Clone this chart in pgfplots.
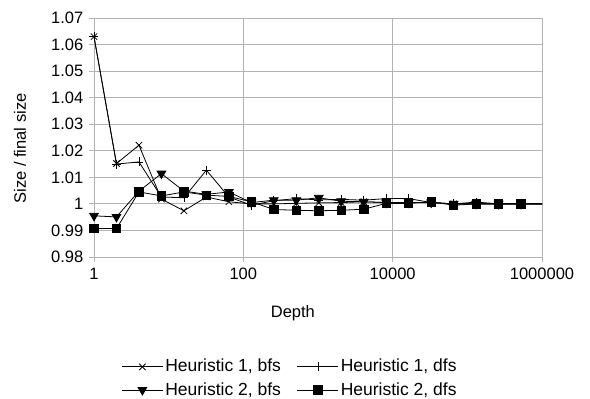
\documentclass[border=0pt]{standalone}
\usepackage{fontspec}
\setmainfont{Liberation Sans}
\usepackage{pgfplots}
\pgfplotsset{compat=1.18}
\pgfplotstableread{
x        hbfs    hdfs    tbfs    tdfs
1        1.0630  1.0630  0.9955  0.9907
2        1.0152  1.0150  0.9951  0.9907
4        1.0221  1.0158  1.0048  1.0045
8        1.0018  1.0026  1.0114  1.0030
16       0.9974  1.0023  1.0048  1.0045
32       1.0026  1.0127  1.0036  1.0033
64       1.0008  1.0026  1.0045  1.0028
128      1.0000  0.9995  1.0005  1.0008
256      1.0000  1.0012  1.0014  0.9979
512      1.0002  1.0020  1.0014  0.9976
1024     1.0004  1.0015  1.0023  0.9974
2048     1.0005  1.0017  1.0010  0.9976
4096     1.0008  1.0014  1.0008  0.9980
8192     1.0005  1.0020  1.0005  1.0002
16384    1.0005  1.0020  1.0005  1.0002
32768    1.0005  1.0005  1.0005  1.0008
65536    1.0000  1.0000  1.0000  0.9995
131072   1.0000  1.0007  1.0000  1.0000
262144   1.0000  1.0000  1.0000  1.0000
524288   1.0000  1.0000  1.0000  1.0000
1048576  1.0000  1.0000  1.0000  1.0000
}\datatable
\begin{document}
\fontsize{16.5bp}{19bp}\selectfont
\begin{tikzpicture}
\begin{axis}[
  at={(0,0)}, anchor=south west,
  scale only axis, width=448bp, height=239bp,
  xmode=log, xmin=1, xmax=1000000,
  ymin=0.98, ymax=1.07,
  xtick={1,100,10000,1000000},
  xticklabels={1,100,10000,1000000},
  ytick={0.98,0.99,1,1.01,1.02,1.03,1.04,1.05,1.06,1.07},
  yticklabels={0.98,0.99,1,1.01,1.02,1.03,1.04,1.05,1.06,1.07},
  minor xtick={}, 
  log basis x=10,
  grid=major,
  major grid style={color=black!30, line width=0.8bp},
  axis line style={color=black!30, line width=0.8bp},
  tick style={color=black!30, line width=0.8bp},
  tick align=outside, major tick length=5bp,
  xtick pos=bottom, ytick pos=left,
  tick label style={font=\fontsize{16.5bp}{19bp}\selectfont, text=black},
  xlabel={Depth}, ylabel={Size / final size},
  label style={font=\fontsize{16.5bp}{19bp}\selectfont},
  xlabel style={at={(axis description cs:0.444,-0.234)}, anchor=center},
  ylabel style={at={(axis description cs:-0.165,0.454)}, anchor=center},
  legend columns=2,
  legend style={at={(axis description cs:0.4375,-0.508)}, anchor=center, draw=none, fill=none,
    font=\fontsize{17.5bp}{20bp}\selectfont, /tikz/every even column/.append style={column sep=14bp},
    row sep=4bp},
  legend image code/.code={%
    \draw[mark=none] (0bp,0bp) -- (41bp,0bp);
    \draw plot coordinates {(20.5bp,0bp)};},
  every axis plot/.append style={black, line width=0.8bp, mark indices={1,...,20}},
]
\addplot[mark=x, mark size=4.5bp] table[x=x,y=hbfs] {\datatable};
\addlegendentry{Heuristic 1, bfs}
\addplot[mark=+, mark size=4.5bp] table[x=x,y=hdfs] {\datatable};
\addlegendentry{Heuristic 1, dfs}
\addplot[mark=triangle*, mark size=5bp, mark options={rotate=180}] table[x=x,y=tbfs] {\datatable};
\addlegendentry{Heuristic 2, bfs}
\addplot[mark=square*, mark size=4.2bp] table[x=x,y=tdfs] {\datatable};
\addlegendentry{Heuristic 2, dfs}
\end{axis}
\pgfresetboundingbox
\path[use as bounding box] (-94bp,-142bp) rectangle (496bp,257bp);
\end{tikzpicture}
\end{document}
